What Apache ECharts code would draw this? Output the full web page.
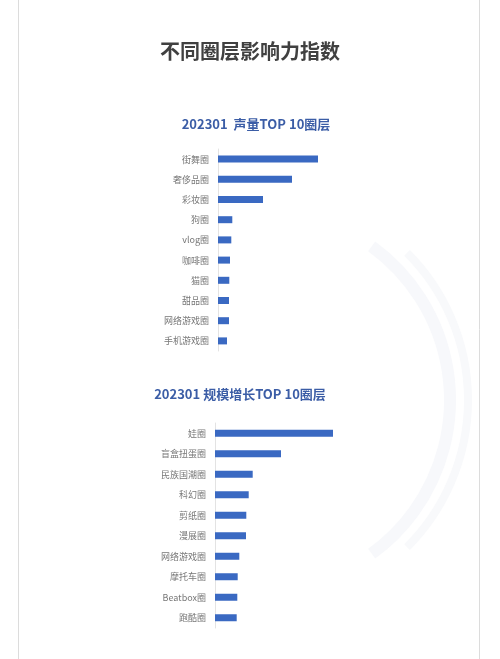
<!DOCTYPE html>
<html><head><meta charset="utf-8">
<script src="https://cdn.jsdelivr.net/npm/echarts@6/dist/echarts.min.js"></script>
<style>html,body{margin:0;padding:0;background:#fff}#c{width:500px;height:659px}</style>
</head><body><div id="c"></div>
<script>
const mainTitle = '不同圈层影响力指数';
const title1 = '202301  声量TOP 10圈层';
const cats1 = ['街舞圈','奢侈品圈','彩妆圈','狗圈','vlog圈','咖啡圈','猫圈','甜品圈','网络游戏圈','手机游戏圈'];
const vals1 = [100, 74, 45, 14.3, 13.3, 12, 11.3, 11, 11, 9];
const title2 = '202301 规模增长TOP 10圈层';
const cats2 = ['娃圈','盲盒扭蛋圈','民族国潮圈','科幻圈','剪纸圈','漫展圈','网络游戏圈','摩托车圈','Beatbox圈','跑酷圈'];
const vals2 = [118, 66, 37.7, 33.7, 31.3, 31, 24.3, 22.7, 22.3, 21.7];

const chart = echarts.init(document.getElementById('c'));
const font = '"Noto Sans CJK SC", "Noto Sans", sans-serif';
const barColor = '#3a69c2';
function yAx(gi, cats){
  return {type:'category', gridIndex:gi, data:cats, inverse:true,
    axisLine:{show:true,lineStyle:{color:'#e3e3e3',width:1}}, axisTick:{show:false},
    axisLabel:{color:'#777777',fontSize:9,fontFamily:font,margin:9}};
}
function xAx(gi){
  return {type:'value', gridIndex:gi, min:0, max:120, show:false, splitLine:{show:false}};
}
chart.setOption({
  backgroundColor:'#fff',
  animation:false,
  title:[
    {text:mainTitle,left:'center',top:36,textStyle:{fontSize:20,fontWeight:'bold',color:'#404040',fontFamily:font}},
    {text:title1,left:251,textAlign:'center',top:113,textStyle:{fontSize:13,fontWeight:'bold',color:'#3b5da6',fontFamily:font}},
    {text:title2,left:235,textAlign:'center',top:383,textStyle:{fontSize:13,fontWeight:'bold',color:'#3b5da6',fontFamily:font}}
  ],
  graphic:[
    {type:'arc',shape:{cx:260,cy:400,r:190,startAngle:-Math.PI*0.3,endAngle:Math.PI*0.3},style:{stroke:'#f7f8fb',lineWidth:12,fill:'none'},z:-20},
    {type:'arc',shape:{cx:260,cy:400,r:208,startAngle:-Math.PI*0.25,endAngle:Math.PI*0.25},style:{stroke:'#f8f9fb',lineWidth:8,fill:'none'},z:-20},
    {type:'rect',shape:{x:18.5,y:-1,width:461,height:700},style:{fill:'none',stroke:'#dcdcdc',lineWidth:1},z:-10}
  ],
  grid:[
    {left:218,top:149,width:120,height:202},
    {left:215,top:423,width:120,height:205}
  ],
  xAxis:[xAx(0),xAx(1)],
  yAxis:[yAx(0,cats1),yAx(1,cats2)],
  series:[
    {type:'bar',xAxisIndex:0,yAxisIndex:0,data:vals1,barWidth:7,itemStyle:{color:barColor}},
    {type:'bar',xAxisIndex:1,yAxisIndex:1,data:vals2,barWidth:7,itemStyle:{color:barColor}}
  ]
});
</script></body></html>
